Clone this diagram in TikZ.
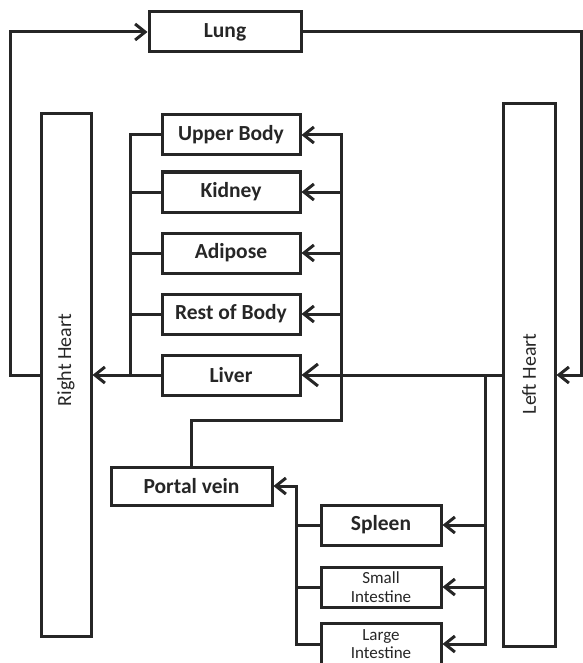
\documentclass[tikz,border=0pt]{standalone}
\usepackage{fontspec}
\setmainfont{Carlito}
\usetikzlibrary{arrows.meta}
\begin{document}
\begin{tikzpicture}[x=1pt,y=-1pt,
  ln/.style={line width=3pt, draw=black!85},
  box/.style={ln, rectangle, inner sep=0pt, align=center, text=black!85, font=\bfseries\fontsize{21.5}{23}\selectfont},
  organ/.style={box, minimum width=138pt, minimum height=40pt},
  gut/.style={box, minimum width=120pt, minimum height=40pt},
  smalltxt/.style={font=\fontsize{17}{18.5}\selectfont},
  heart/.style={ln, rectangle, inner sep=0pt},
  hearttxt/.style={rotate=90, font=\fontsize{20}{22}\selectfont, text=black!85},
  arr/.style={ln, -{Straight Barb[length=10pt,width=16pt]}},
  bigarr/.style={ln, -{Straight Barb[length=14pt,width=22pt]}},
]
\useasboundingbox (0,0) rectangle (582,663);

% nodes
\node[box, minimum width=152pt, minimum height=40pt] (lung) at (225,32) {Lung};
\node[heart, minimum width=50pt, minimum height=523pt] (rh) at (66,375) {};
\node[hearttxt] (rhl) at (66,360) {Right Heart};
\node[heart, minimum width=52pt, minimum height=543pt] (lh) at (529,375) {};
\node[hearttxt] (lhl) at (529,374) {Left Heart};

\node[organ] (ub)  at (231,135) {Upper Body};
\node[organ] (kid) at (231,192) {Kidney};
\node[organ] (adi) at (231,253) {Adipose};
\node[organ] (rob) at (231,314) {Rest of Body};
\node[organ] (liv) at (231,375) {Liver};

\node[box, minimum width=161pt, minimum height=38pt] (pv) at (191.5,486) {Portal vein};
\node[gut] (sp) at (381,525) {Spleen};
\node[gut, smalltxt] (si) at (381,587) {Small\\Intestine};
\node[gut, smalltxt, minimum height=41pt] (li) at (381,644) {Large\\Intestine};

% junction coordinates
\coordinate (cl) at (130,375);
\coordinate (dr) at (341,420);
\coordinate (ir) at (485,375);
\coordinate (il) at (296,486);
\coordinate (lt) at (10,375);
\coordinate (rt) at (581,375);

% pulmonary loop
\draw[arr] (rh.west) -- (lt) |- (lung.west);
\draw[arr] (lung.east) -| (rt) -- (lh.east);

% venous return
\draw[ln] (ub.west) -| (cl);
\draw[ln] (kid.west) -- (kid.west -| cl);
\draw[ln] (adi.west) -- (adi.west -| cl);
\draw[ln] (rob.west) -- (rob.west -| cl);
\draw[arr] (liv.west) -- (rh.east);

% arterial supply
\draw[arr] (pv.north) |- (dr) |- (ub.east);
\draw[arr] (kid.east -| dr) -- (kid.east);
\draw[arr] (adi.east -| dr) -- (adi.east);
\draw[arr] (rob.east -| dr) -- (rob.east);
\draw[bigarr] (lh.west) -- (liv.east);

% gut
\draw[arr] (ir) |- (li.east);
\draw[arr] (sp.east -| ir) -- (sp.east);
\draw[arr] (si.east -| ir) -- (si.east);
\draw[arr] (li.west) -| (il) -- (pv.east);
\draw[ln] (sp.west) -- (sp.west -| il);
\draw[ln] (si.west) -- (si.west -| il);
\end{tikzpicture}
\end{document}
